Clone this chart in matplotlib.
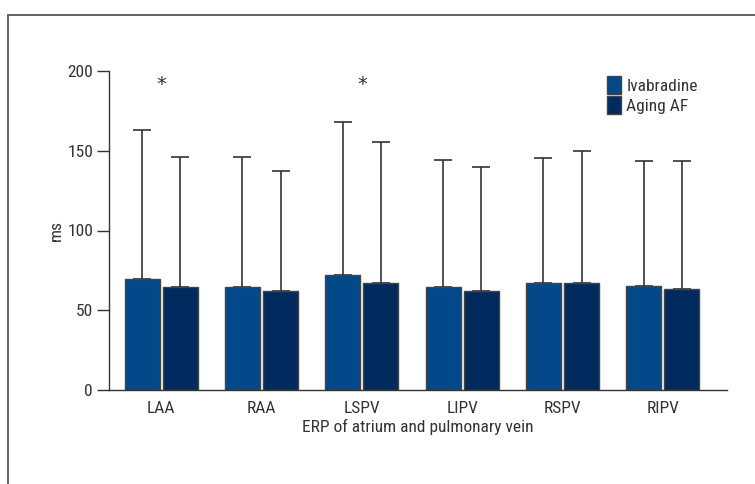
import numpy as np
import matplotlib.pyplot as plt
from matplotlib.patches import Rectangle
from matplotlib import font_manager

# Data
regions = ['LAA', 'RAA', 'LSPV', 'LIPV', 'RSPV', 'RIPV']
ivabradine_mean = [69.5, 64.7, 72.4, 64.7, 66.8, 64.9]
ivabradine_sd = [93.5, 81.6, 95.6, 79.8, 78.5, 78.7]
aging_af_mean = [64.7, 62.0, 67.2, 62.0, 66.8, 63.3]
aging_af_sd = [81.6, 75.4, 88.3, 77.9, 83.1, 80.3]
star_regions = ['LAA', 'LSPV']

# condensed face if one is installed, else Lato
installed = {f.name for f in font_manager.fontManager.ttflist}
cands = ['Roboto Condensed', 'PT Sans Narrow', 'Fira Sans Condensed',
         'Open Sans Condensed', 'Archivo Narrow', 'Lato']
family = next((c for c in cands if c in installed), 'DejaVu Sans')
condensed = family != 'Lato'
plt.rcParams['font.family'] = [family, 'DejaVu Sans']
plt.rcParams['font.size'] = 12.5 if condensed else 11

col_iva = '#03498a'
col_age = '#012b5e'
edge = '#444444'
ink = '#333333'

fig = plt.figure(figsize=(7.55, 4.84), dpi=100)
# outer frame round the panel
fig.patches.append(Rectangle((8 / 755, -0.01), 1.0, 1 - 15 / 484 + 0.01,
                             transform=fig.transFigure, fill=False,
                             edgecolor='#555555', linewidth=1.3))

ax = fig.add_axes([109 / 755, 94 / 484, 618 / 755, 319 / 484])

x = np.arange(len(regions))
w = 0.35
off = 0.19

ax.bar(x - off, ivabradine_mean, w, color=col_iva, edgecolor=edge, linewidth=1.0,
       label='Ivabradine', zorder=2)
ax.bar(x + off, aging_af_mean, w, color=col_age, edgecolor=edge, linewidth=1.0,
       label='Aging AF', zorder=2)

# upper-only error bars
err_kw = dict(fmt='none', ecolor=ink, elinewidth=1.2, capsize=6.5, capthick=1.2, zorder=1)
ax.errorbar(x - off, ivabradine_mean, yerr=[np.zeros(len(x)), ivabradine_sd], **err_kw)
ax.errorbar(x + off, aging_af_mean, yerr=[np.zeros(len(x)), aging_af_sd], **err_kw)

for r in star_regions:
    ax.text(regions.index(r), 191.5, '*', ha='center', va='center', fontsize=14,
            color=ink, family='DejaVu Sans')

ax.set_xlim(-0.52, 5.64)
ax.set_ylim(0, 200)
ax.set_yticks([0, 50, 100, 150, 200])
ax.set_xticks(x)
ax.set_xticklabels(regions)
ax.tick_params(axis='x', length=0, pad=8, colors=ink)
ax.tick_params(axis='y', direction='out', length=8.5, width=1.0, pad=3, colors=ink)
for s in ['top', 'right']:
    ax.spines[s].set_visible(False)
for s in ['left', 'bottom']:
    ax.spines[s].set_color(ink)
    ax.spines[s].set_linewidth(1.0)

ax.set_ylabel('ms', color=ink, labelpad=2)
ax.set_xlabel('ERP of atrium and pulmonary vein', color=ink, labelpad=2)

ax.legend(loc='upper left', bbox_to_anchor=(0.795, 1.005), frameon=False,
          handlelength=0.8, handleheight=1.2, handletextpad=0.3,
          labelspacing=0.1, borderaxespad=0, labelcolor=ink)

fig.savefig('out.png', dpi=100)
